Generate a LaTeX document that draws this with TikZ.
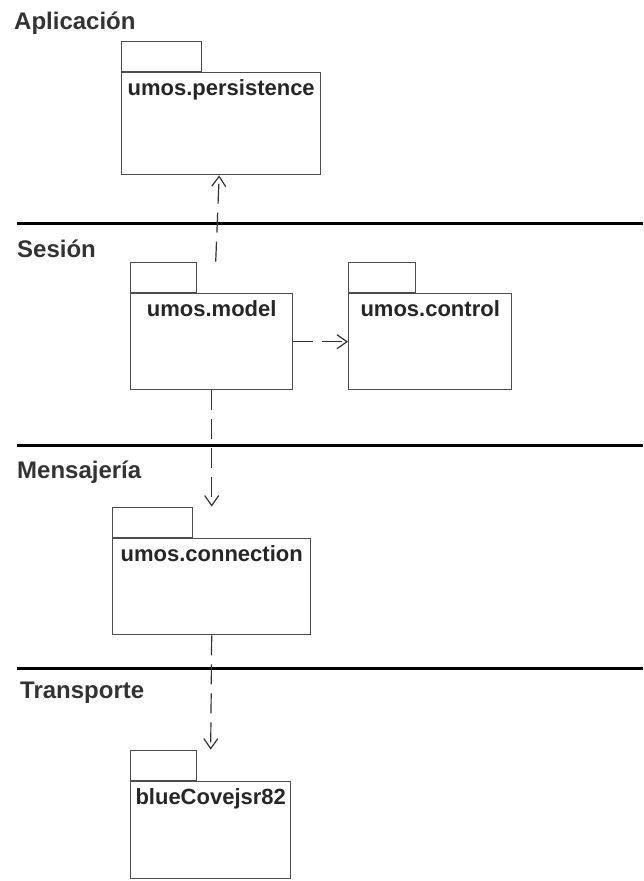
\documentclass[tikz,border=0pt]{standalone}
\usepackage{fontspec}
\setmainfont{Liberation Sans}
\usetikzlibrary{arrows.meta,positioning}
\definecolor{pkggray}{gray}{0.3}

\tikzset{
  pkg/.style={draw=pkggray, line width=1.4pt, anchor=north west, inner xsep=0pt, inner ysep=0pt,
    text height=23pt, text depth=73pt, font=\fontsize{22}{26}\selectfont\bfseries, text=black!85},
  pkgtab/.style={draw=pkggray, line width=1.4pt, minimum height=30pt, inner sep=0pt},
  layer/.style={anchor=base west, inner sep=0pt, font=\fontsize{24}{28}\selectfont\bfseries, text=black!80},
  layerline/.style={line width=3pt},
  dep/.style={draw=black!80, line width=1.2pt, dash pattern=on 20pt off 9pt,
    -{Straight Barb[length=10pt,width=14pt,line width=1.2pt]}},
}

\begin{document}
\begin{tikzpicture}[x=1pt,y=1pt]
    \useasboundingbox (0,0) rectangle (643,-881);

    % capas
    \node[layer] (aplicacion) at (14,-29) {Aplicación};
    \node[layer] (sesion) at (17,-257) {Sesión};
    \node[layer] (mensajeria) at (17,-478) {Mensajería};
    \node[layer] (transporte) at (20,-698) {Transporte};

    \draw[layerline] (17,-223) -- (643,-223);
    \draw[layerline] (17,-445) -- (643,-445);
    \draw[layerline] (17,-668) -- (643,-668);

    % paquetes
    \node[pkg, minimum width=199pt, text depth=79pt] (pers) at (121,-72) {umos.persistence};
    \node[pkg, minimum width=162pt] (model) at (130,-293) {umos.model};
    \node[pkg, minimum width=163pt] (control) at (348,-293) {umos.control};
    \node[pkg, minimum width=198pt] (conn) at (112,-538) {umos.connection};
    \node[pkg, minimum width=160pt, text depth=74pt] (blue) at (130,-781) {blueCovejsr82};

    \node[pkgtab, minimum width=80pt, above right=0pt of pers.north west] (perstab) {};
    \node[pkgtab, minimum width=66pt, above right=0pt of model.north west] (modeltab) {};
    \node[pkgtab, minimum width=67pt, above right=0pt of control.north west] (controltab) {};
    \node[pkgtab, minimum width=80pt, above right=0pt of conn.north west] (conntab) {};
    \node[pkgtab, minimum width=66pt, above right=0pt of blue.north west] (bluetab) {};

    % dependencias
    \draw[dep] ([xshift=4pt]model.north |- modeltab.north) -- ([xshift=-2pt]pers.south);
    \draw[dep] (model.east) -- (control.west);
    \draw[dep] (model.south) -- (conn.north |- conntab.north);
    \draw[dep] (conn.south) -- (blue.north |- bluetab.north);
\end{tikzpicture}
\end{document}
